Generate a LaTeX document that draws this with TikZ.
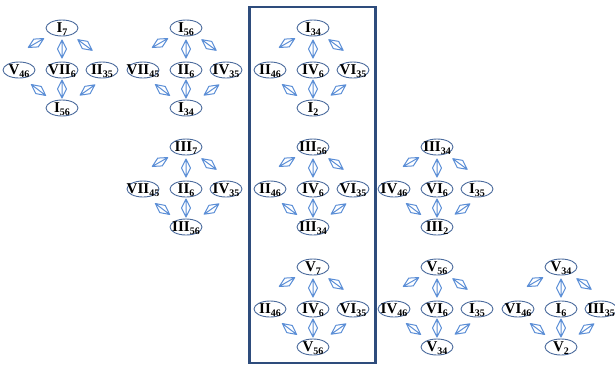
\documentclass[tikz,border=0pt]{standalone}
\usepackage{fontspec}
\setmainfont{Liberation Serif}
\usetikzlibrary{shapes.geometric,calc}
\definecolor{ellc}{HTML}{4A6A9C}
\definecolor{lnkc}{HTML}{5B8ED6}
\definecolor{framec}{HTML}{2E4C7C}
\newcommand{\lsub}[1]{\raisebox{-0.18em}{\fontsize{10}{10}\selectfont #1}}
\newcommand{\lab}[1]{\makebox[0pt]{\raisebox{-4.9pt}[0pt][0pt]{#1}}}
\tikzset{
  el/.style={ellipse, draw=ellc, line width=0.9pt, minimum width=32pt, minimum height=16pt,
    inner sep=0pt, font=\fontsize{15}{15}\selectfont\bfseries},
  link/.style={draw=lnkc, line width=1pt, line join=round, to path={
    let \p1=(\tikztostart), \p2=(\tikztotarget), \p3=($(\p1)!0.5!(\p2)+(#1)$) in
    ($(\p3)!9pt!(\p2)$) -- ($(\p3)!4.5pt!90:(\p2)$) -- ($(\p3)!-9pt!(\p2)$)
    -- ($(\p3)!4.5pt!-90:(\p2)$) -- cycle
    ($(\p3)!9pt!(\p2)$) -- ($(\p3)!-9pt!(\p2)$)}},
  link/.default={0,0},
  frame/.style={draw=framec, line width=2.2pt}
}
% name, x, y, top, left, center, right, bottom
\newcommand{\cl}[8]{%
  \node[el] (#1t) at (#2,#3) {\lab{#4}};
  \node[el] (#1l) at ($(#2,#3)+(-43,42)$) {\lab{#5}};
  \node[el] (#1c) at ($(#2,#3)+(0,42)$) {\lab{#6}};
  \node[el] (#1r) at ($(#2,#3)+(40,42)$) {\lab{#7}};
  \node[el] (#1b) at ($(#2,#3)+(0,80)$) {\lab{#8}};
  \draw[link={-4.5,-6}] (#1l) to (#1t);
  \draw[link] (#1c) to (#1t);
  \draw[link={3,-4}] (#1r) to (#1t);
  \draw[link={-2,1}] (#1l) to (#1b);
  \draw[link] (#1c) to (#1b);
  \draw[link={5.5,1}] (#1r) to (#1b);
}
\begin{document}
\begin{tikzpicture}[x=1pt,y=-1pt]
\useasboundingbox (0,0) rectangle (615,365);
\draw[frame] (249.5,7) rectangle (375.5,363);
\cl{A}{62}{28}{I\lsub{7}}{V\lsub{46}}{VII\lsub{6}}{II\lsub{35}}{I\lsub{56}}
\cl{B}{186}{28}{I\lsub{56}}{VII\lsub{45}}{II\lsub{6}}{IV\lsub{35}}{I\lsub{34}}
\cl{C}{313}{28}{I\lsub{34}}{II\lsub{46}}{IV\lsub{6}}{VI\lsub{35}}{I\lsub{2}}
\cl{D}{186}{147}{III\lsub{7}}{VII\lsub{45}}{II\lsub{6}}{IV\lsub{35}}{III\lsub{56}}
\cl{E}{313}{147}{III\lsub{56}}{II\lsub{46}}{IV\lsub{6}}{VI\lsub{35}}{III\lsub{34}}
\cl{F}{437}{147}{III\lsub{34}}{IV\lsub{46}}{VI\lsub{6}}{I\lsub{35}}{III\lsub{2}}
\cl{G}{313}{267}{V\lsub{7}}{II\lsub{46}}{IV\lsub{6}}{VI\lsub{35}}{V\lsub{56}}
\cl{H}{437}{267}{V\lsub{56}}{IV\lsub{46}}{VI\lsub{6}}{I\lsub{35}}{V\lsub{34}}
\cl{I}{561}{267}{V\lsub{34}}{VI\lsub{46}}{I\lsub{6}}{III\lsub{35}}{V\lsub{2}}
\end{tikzpicture}
\end{document}
